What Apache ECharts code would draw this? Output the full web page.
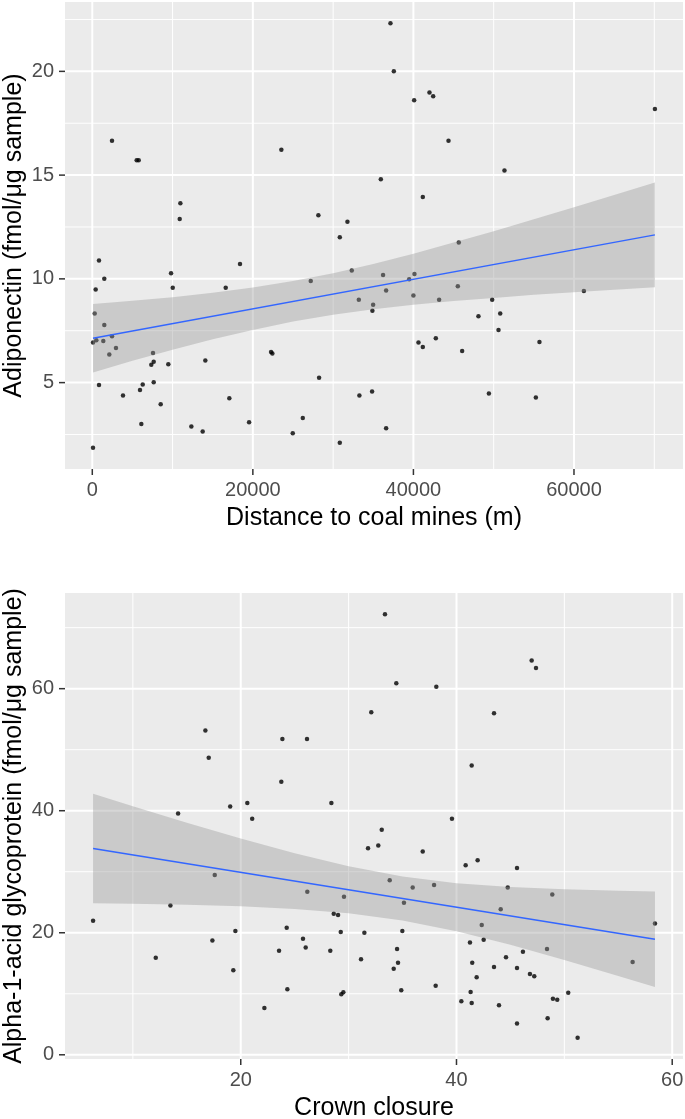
<!DOCTYPE html>
<html>
<head>
<meta charset="utf-8">
<script src="https://cdn.jsdelivr.net/npm/echarts@6/dist/echarts.min.js"></script>
<style>
html,body{margin:0;padding:0;background:#fff;}
#chart{width:685px;height:1119px;}
</style>
</head>
<body>
<div id="chart"></div>
<script>
// ---------- Top panel: Adiponectin vs distance to coal mines ----------
const distance = [2455,5530,5780,10970,10890,37140,37560,42000,42460,40090,44370,23550,35940,41170,28160,31780,30830,51340,70080,
  835,1495,420,300,1495,2455,90,500,1370,2950,2120,7560,7650,7350,9470,14080,835,6280,5940,7650,3825,8520,6110,12340,13750,90,
  9810,10020,16620,18400,17070,27210,32320,36220,40130,39470,36600,40000,33200,43200,34980,34890,45530,45650,22270,22430,
  40630,41170,42790,28250,19530,33270,34850,26220,24970,36600,30830,49810,61230,48100,50810,50600,55700,46070,49400,55250];
const adiponectin = [16.66,15.72,15.72,13.65,12.88,22.32,20.01,18.98,18.80,18.61,16.66,16.22,14.80,13.94,13.07,12.75,12.01,15.22,18.19,
  10.88,10.01,9.49,8.33,7.78,7.24,6.93,7.04,7.01,6.67,6.35,6.43,6.01,5.86,5.89,6.06,4.88,4.91,4.65,5.02,4.38,3.96,3.01,2.88,2.64,1.86,
  10.27,9.57,9.57,10.72,4.25,9.90,10.40,10.19,10.24,9.98,9.44,9.20,8.99,8.99,8.75,8.46,9.65,11.75,6.48,6.40,
  6.93,6.72,7.14,5.24,3.09,4.38,4.57,3.30,2.56,2.80,2.10,8.99,9.41,8.20,8.33,7.54,6.96,6.52,4.47,4.28];
const topFitX = [90, 70080];
const topFitY = [7.14, 12.12];
const topBandX = [90,5000,10000,15000,20000,25000,30000,35000,40000,45000,50000,55000,60000,65000,70080];
const topBandUpper = [8.79,8.95,9.12,9.33,9.58,9.90,10.27,10.72,11.21,11.75,12.30,12.87,13.45,14.04,14.64];
const topBandLower = [5.49,6.05,6.58,7.09,7.54,7.95,8.27,8.54,8.75,8.93,9.08,9.23,9.35,9.48,9.60];
const topXTicks = [0,20000,40000,60000];
const topXMinor = [10000,30000,50000,70000];
const topYTicks = [5,10,15,20];
const topYMinor = [2.5,7.5,12.5,17.5,22.5];

// ---------- Bottom panel: AGP vs crown closure ----------
const crownClosure = [16.72,17.03,14.19,19.02,33.37,34.42,38.13,32.10,23.86,26.14,23.76,20.61,21.06,28.40,33.07,39.58,46.97,47.37,43.48,41.41,
  6.31,12.12,13.48,17.59,17.37,19.50,19.31,32.75,31.80,36.87,33.81,35.94,37.92,26.17,29.57,35.13,28.62,29.02,24.26,29.27,31.46,34.98,
  25.77,26.02,23.55,28.30,34.49,31.15,34.58,34.18,24.32,34.88,38.07,29.51,29.32,22.19,
  40.85,41.96,45.61,44.75,48.88,44.10,42.34,58.40,41.25,42.52,46.16,48.39,41.46,44.59,43.48,45.61,46.81,47.21,56.33,41.87,41.31,40.45,
  41.41,43.94,48.94,49.34,50.36,48.45,45.61,51.23];
const agp = [53.13,48.67,39.56,40.71,72.21,60.87,60.32,56.12,51.77,51.77,44.74,41.25,38.70,41.25,36.89,38.70,64.63,63.37,55.96,47.41,
  21.96,15.91,24.47,29.48,18.75,20.27,13.85,34.28,33.84,33.30,28.61,27.41,27.84,26.70,25.88,24.90,23.10,22.89,20.82,20.11,20.00,20.27,
  19.02,17.60,17.06,17.06,17.33,15.64,15.09,14.11,10.74,10.58,11.33,10.25,9.92,7.68,
  31.06,31.88,30.62,27.41,26.27,23.87,21.25,21.53,18.42,18.85,16.89,17.33,15.09,15.97,14.39,14.22,13.24,12.86,15.20,12.70,10.30,8.78,
  8.50,8.12,9.20,9.04,10.18,6.00,5.12,2.78];
const botFitX = [6.31, 58.40];
const botFitY = [33.79, 18.94];
const botBandX = [6.31,10,15,20,25,30,35,40,45,50,55,58.40];
const botBandUpper = [42.76,40.74,38.04,35.45,33.01,30.88,29.22,28.13,27.49,27.11,26.89,26.78];
const botBandLower = [24.82,24.74,24.58,24.33,23.91,23.20,22.00,20.23,18.03,15.55,12.93,11.09];
const botXTicks = [20,40,60];
const botXMinor = [10,30,50];
const botYTicks = [0,20,40,60];
const botYMinor = [10,30,50,70];

const topXRange = [-3399, 73579], topYRange = [0.837, 23.343];
const botXRange = [3.706, 61.0], botYRange = [-0.69, 75.68];

const FONT = "'Liberation Sans', Arial, sans-serif";

function pairs(xs, ys){ return xs.map((x,i)=>[x, ys[i]]); }

function gridRenderer(xr, yr, xMaj, xMin, yMaj, yMin){
  return function(params, api){
    const ch = [];
    const ln = (p1,p2,w,c)=>({type:'line', shape:{x1:p1[0],y1:p1[1],x2:p2[0],y2:p2[1]}, style:{stroke:c, lineWidth:w}, silent:true});
    xMin.forEach(v=>ch.push(ln(api.coord([v,yr[0]]), api.coord([v,yr[1]]), 1, '#FFFFFF')));
    yMin.forEach(v=>ch.push(ln(api.coord([xr[0],v]), api.coord([xr[1],v]), 1, '#FFFFFF')));
    xMaj.forEach(v=>ch.push(ln(api.coord([v,yr[0]]), api.coord([v,yr[1]]), 2, '#FFFFFF')));
    yMaj.forEach(v=>ch.push(ln(api.coord([xr[0],v]), api.coord([xr[1],v]), 2, '#FFFFFF')));
    xMaj.forEach(v=>{ const p = api.coord([v,yr[0]]); ch.push(ln([p[0],p[1]],[p[0],p[1]+6],1.5,'#333333')); });
    yMaj.forEach(v=>{ const p = api.coord([xr[0],v]); ch.push(ln([p[0]-6,p[1]],[p[0],p[1]],1.5,'#333333')); });
    return {type:'group', children:ch};
  };
}

function bandRenderer(bx, bu, bl){
  return function(params, api){
    const pts = [];
    for (let i=0;i<bx.length;i++) pts.push(api.coord([bx[i], bu[i]]));
    for (let i=bx.length-1;i>=0;i--) pts.push(api.coord([bx[i], bl[i]]));
    return {type:'polygon', shape:{points:pts}, style:{fill:'rgba(153,153,153,0.4)'}, silent:true};
  };
}

const plainFmt = v => String(v);

function xAxisCfg(idx, range, ticks, name){
  return {
    type:'value', gridIndex:idx, min:range[0], max:range[1],
    axisLine:{show:false}, axisTick:{show:false}, splitLine:{show:false},
    axisLabel:{customValues:ticks, formatter:plainFmt, fontSize:20, color:'#4D4D4D', margin:11, fontFamily:FONT},
    name:name, nameLocation:'middle', nameGap:37, nameMoveOverlap:false,
    nameTextStyle:{fontSize:25, color:'#000000', fontFamily:FONT}
  };
}
function yAxisCfg(idx, range, ticks, name){
  return {
    type:'value', gridIndex:idx, min:range[0], max:range[1],
    axisLine:{show:false}, axisTick:{show:false}, splitLine:{show:false},
    axisLabel:{customValues:ticks, formatter:plainFmt, fontSize:20, color:'#4D4D4D', margin:11, fontFamily:FONT},
    name:name, nameLocation:'middle', nameGap:38, nameRotate:90, nameMoveOverlap:false,
    nameTextStyle:{fontSize:25, color:'#000000', fontFamily:FONT}
  };
}

const chart = echarts.init(document.getElementById('chart'), null, {renderer:'canvas'});
chart.setOption({
  animation:false,
  backgroundColor:'#FFFFFF',
  grid:[
    {left:65, top:2, width:618, height:467, show:true, backgroundColor:'#EBEBEB', borderWidth:0, containLabel:false, outerBoundsMode:'none'},
    {left:65, top:593, width:618, height:466, show:true, backgroundColor:'#EBEBEB', borderWidth:0, containLabel:false, outerBoundsMode:'none'}
  ],
  xAxis:[
    xAxisCfg(0, topXRange, topXTicks, 'Distance to coal mines (m)'),
    xAxisCfg(1, botXRange, botXTicks, 'Crown closure')
  ],
  yAxis:[
    yAxisCfg(0, topYRange, topYTicks, 'Adiponectin (fmol/μg sample)'),
    yAxisCfg(1, botYRange, botYTicks, 'Alpha-1-acid glycoprotein (fmol/μg sample)')
  ],
  series:[
    {type:'custom', xAxisIndex:0, yAxisIndex:0, z:1, zlevel:0, silent:true, clip:false, data:[[topXRange[0], topYRange[0]]],
      renderItem:gridRenderer(topXRange, topYRange, topXTicks, topXMinor, topYTicks, topYMinor)},
    {type:'custom', xAxisIndex:1, yAxisIndex:1, z:1, zlevel:0, silent:true, clip:false, data:[[botXRange[0], botYRange[0]]],
      renderItem:gridRenderer(botXRange, botYRange, botXTicks, botXMinor, botYTicks, botYMinor)},
    {type:'scatter', xAxisIndex:0, yAxisIndex:0, z:2, symbolSize:4.5, itemStyle:{color:'#000000'}, silent:true,
      data:pairs(distance, adiponectin)},
    {type:'scatter', xAxisIndex:1, yAxisIndex:1, z:2, symbolSize:4.5, itemStyle:{color:'#000000'}, silent:true,
      data:pairs(crownClosure, agp)},
    {type:'custom', xAxisIndex:0, yAxisIndex:0, z:3, silent:true, data:[[topBandX[0], topBandLower[0]]],
      renderItem:bandRenderer(topBandX, topBandUpper, topBandLower)},
    {type:'custom', xAxisIndex:1, yAxisIndex:1, z:3, silent:true, data:[[botBandX[0], botBandLower[0]]],
      renderItem:bandRenderer(botBandX, botBandUpper, botBandLower)},
    {type:'line', xAxisIndex:0, yAxisIndex:0, z:4, symbol:'none', silent:true,
      lineStyle:{color:'#3366FF', width:1.5}, data:pairs(topFitX, topFitY)},
    {type:'line', xAxisIndex:1, yAxisIndex:1, z:4, symbol:'none', silent:true,
      lineStyle:{color:'#3366FF', width:1.5}, data:pairs(botFitX, botFitY)}
  ]
});
</script>
</body>
</html>
